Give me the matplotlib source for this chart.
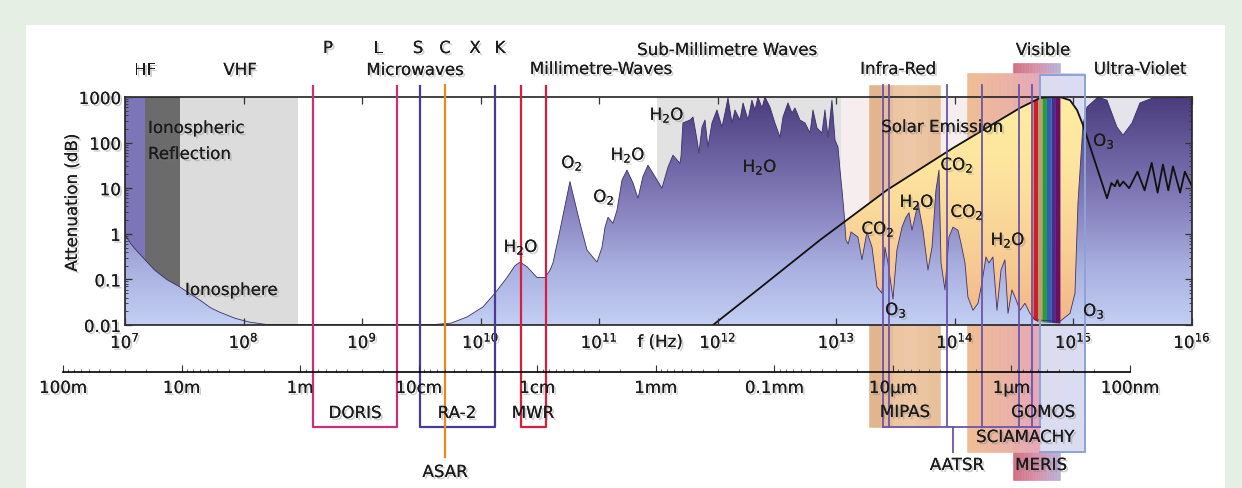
import numpy as np
import matplotlib.pyplot as plt
import matplotlib.transforms as mtransforms
import matplotlib.patheffects as pe
from matplotlib.colors import LinearSegmentedColormap
from matplotlib.path import Path
from matplotlib.patches import Rectangle
from matplotlib.ticker import NullFormatter

plt.rcParams['font.family'] = ['DejaVu Sans']
plt.rcParams['mathtext.default'] = 'regular'

W, H = 1242, 488

# --- atmospheric attenuation, log10(f / Hz) and dB ---
iono_logf = [7.000, 7.05, 7.10, 7.169, 7.25, 7.35, 7.464, 7.55, 7.633, 7.72, 7.801, 7.93, 8.054, 8.2]
iono_db = [0.95, 0.6, 0.42, 0.27, 0.16, 0.1, 0.068, 0.048, 0.035, 0.024, 0.019, 0.014, 0.0115, 0.0102]

mw_logf = [9.6, 9.75, 9.885, 10.02, 10.121, 10.222, 10.289, 10.332, 10.391, 10.475, 10.543,
           10.585, 10.61, 10.669, 10.753, 10.838, 10.897, 10.981, 11.023, 11.049, 11.074,
           11.116, 11.15, 11.192, 11.234, 11.285, 11.327, 11.369, 11.411, 11.470, 11.529,
           11.580, 11.622, 11.681, 11.69]
mw_db = [0.0102, 0.011, 0.015, 0.025, 0.05, 0.11, 0.2, 0.24, 0.19, 0.11, 0.11,
         0.16, 0.23, 1.2, 14, 1.7, 0.44, 0.24, 0.5, 1.4, 2.3,
         1.7, 3.3, 15, 25, 13, 6, 18, 32, 18, 10,
         29, 53, 35, 50]

submm_logf = [11.706, 11.766, 11.791, 11.825, 11.841, 11.867, 11.892, 11.917, 11.951, 11.993,
              12.035, 12.061, 12.086, 12.120, 12.145, 12.187, 12.213, 12.255, 12.288, 12.314,
              12.339, 12.373, 12.398, 12.440, 12.482, 12.525, 12.550, 12.592, 12.626, 12.651,
              12.693, 12.736, 12.778, 12.803, 12.837, 12.879, 12.904, 12.930, 12.963, 12.989,
              13.014, 13.031, 13.048, 13.065]
submm_db = [270, 313, 364, 114, 59, 219, 313, 80, 269, 519,
            219, 446, 955, 269, 519, 313, 741, 313, 851, 519,
            1000, 575, 1000, 603, 269, 132, 364, 741, 446, 575,
            313, 269, 163, 519, 209, 163, 519, 132, 851, 114,
            80, 25, 9, 2.9]

ir_logf = [13.081, 13.10, 13.124, 13.182, 13.216, 13.258, 13.301, 13.343, 13.385, 13.410,
           13.436, 13.478, 13.511, 13.554, 13.587, 13.613, 13.638, 13.663, 13.689, 13.731,
           13.773, 13.807, 13.840, 13.866, 13.883, 13.916, 13.950, 13.984, 14.026, 14.051,
           14.085, 14.110, 14.153, 14.195, 14.228, 14.262, 14.287, 14.321, 14.355, 14.389,
           14.422, 14.448, 14.481, 14.507, 14.549, 14.591, 14.633, 14.675, 14.886, 14.971,
           15.013, 15.038]
ir_db = [0.73, 0.6, 1.1, 0.85, 0.27, 1.1, 0.51, 0.068, 0.05, 0.51,
         0.23, 0.037, 0.44, 1.4, 2.3, 2.9, 1.2, 2.3, 4.7, 1.2,
         0.16, 0.51, 9, 25, 0.23, 0.059, 0.85, 1.4, 1.2, 0.63,
         0.23, 0.041, 0.021, 0.030, 0.083, 0.31, 0.23, 0.31, 0.021, 0.16,
         0.27, 0.018, 0.059, 0.041, 0.021, 0.030, 0.018, 0.013, 0.012, 0.018,
         0.050, 4.7]

uv_logf = [15.080, 15.114, 15.207, 15.283, 15.367, 15.418, 15.494, 15.561, 15.671, 15.840, 16.0]
uv_db = [245, 600, 1000, 851, 219, 146, 269, 741, 955, 955, 1000]

# solar emission line
solar_logf = [11.960, 12.356, 12.862, 13.427, 13.984, 14.549, 14.718, 14.80, 14.886, 14.971,
              15.03, 15.08, 15.283, 15.32, 15.35, 15.37, 15.39, 15.42, 15.47, 15.54,
              15.60, 15.66, 15.71, 15.755, 15.80, 15.84, 15.90, 15.94, 16.0]
solar_db = [0.01, 0.065, 0.73, 9.1, 76, 575, 950, 1000, 1000, 850,
            520, 245, 6, 13, 11, 15, 11, 14, 10, 23,
            9, 36, 8, 33, 9, 30, 8, 23, 11]

# spectral bands (Hz)
hf_band = [1.0e7, 1.47e7]
iono_dark = [1.47e7, 2.9e7]
iono_light = [2.9e7, 2.88e8]
submm_grey = [3.1e11, 1.1e13]
uv_grey = [1.2e15, 1.0e16]
pale_band = [1.0e13, 5.2e14]
visible_band = [4.56e14, 7.69e14]
rainbow = ['#c8202c', '#e89a1c', '#2a9a3a', '#2a62b8', '#4a2a8c', '#6a1060']

# instruments (Hz)
doris = [3.86e8, 1.97e9]
ra2 = [3.08e9, 1.32e10]
asar = 5.0e9
mwr = [2.19e10, 3.56e10]
mipas = [1.88e13, 7.48e13]
aatsr = [2.47e13, 2.78e13, 8.57e13, 1.69e14, 3.47e14, 4.47e14]
aatsr_stem = 9.64e13
sciamachy = [1.26e14, 1.25e15]
gomos = [5.22e14, 1.25e15]
meris = [3.09e14, 7.69e14]

# wavelength scale
wl_labels = ['100m', '10m', '1m', '10cm', '1cm', '1mm', '0.1mm', '10\u00b5m', '1\u00b5m', '100nm']
wl_metres = [100, 10, 1, 0.1, 0.01, 1e-3, 1e-4, 1e-5, 1e-6, 1e-7]

att_f = 10 ** np.array(iono_logf + mw_logf + submm_logf + ir_logf + uv_logf)
att_db = np.array(iono_db + mw_db + submm_db + ir_db + uv_db)
sol_f = 10 ** np.array(solar_logf)
sol_db = np.array(solar_db)

TXT = '#1a1a1a'
shadow = [pe.withSimplePatchShadow(offset=(1.5, -1.5), shadow_rgbFace='#777777', alpha=0.35), pe.Normal()]


def fy(p):
    return 1 - p / H


def label(x, y, s, ha='center', size=12, **kw):
    fig.text(x / W, fy(y), s, ha=ha, va='center', fontsize=size, color=TXT,
             path_effects=shadow, **kw)


def logval(lf, xs, ys):
    return 10 ** np.interp(lf, np.log10(xs), np.log10(ys))


fig = plt.figure(figsize=(W / 100, H / 100), dpi=100)
fig.patch.set_facecolor('#e6efe3')
fig.patches.append(Rectangle((26 / W, 0), (1225 - 26) / W, fy(25), transform=fig.transFigure,
                             facecolor='white', edgecolor='none', zorder=-10))

ax = fig.add_axes([125 / W, fy(325), (1192 - 125) / W, (325 - 97) / H])
ax.set_xscale('log')
ax.set_yscale('log')
ax.set_xlim(1e7, 1e16)
ax.set_ylim(0.01, 1000)
ax.set_autoscale_on(False)
ax.patch.set_visible(False)
bt = mtransforms.blended_transform_factory(ax.transData, fig.transFigure)

# background bands
ax.fill_between(pale_band, 0.01, 1000, color='#f6eeee', lw=0, zorder=0.2)
ax.fill_between(hf_band, 0.01, 1000, color='#7c76b8', lw=0, zorder=1)
ax.fill_between(iono_dark, 0.01, 1000, color='#6b6b6b', lw=0, zorder=1)
ax.fill_between(iono_light, 0.01, 1000, color='#dcdcdc', lw=0, zorder=1)
ax.fill_between(submm_grey, 0.01, 1000, color='#e2e2e2', lw=0, zorder=1)
ax.fill_between(uv_grey, 0.01, 1000, color='#e4e4ea', lw=0, zorder=1)


def box_fill(fr, y0, y1, colors, z, n=30):
    edges = np.logspace(np.log10(fr[0]), np.log10(fr[1]), n + 1)
    cm = LinearSegmentedColormap.from_list('b', colors)
    for i in range(n):
        c = cm(i / (n - 1))
        ax.fill([edges[i], edges[i + 1], edges[i + 1], edges[i]], [fy(y1), fy(y1), fy(y0), fy(y0)],
                transform=bt, facecolor=c, edgecolor=c, lw=0.4, clip_on=False, zorder=z)


# instrument band fills (under the spectrum)
box_fill(mipas, 85, 427, ['#e2b58e', '#efcaa8', '#e8c09c'], 0.5, n=6)
box_fill(meris, 63, 480, ['#cf6f80', '#d890a8', '#b8b0d8'], 0.45)
box_fill(sciamachy, 73, 452, ['#efbd95', '#eab2a4', '#e4a8c0', '#d8d2ee'], 0.5)
box_fill(gomos, 75, 452, ['#dcdcf0', '#dadcf2'], 0.55, n=2)


def gradient(coll, colors, z):
    cm = LinearSegmentedColormap.from_list('g', colors)
    grad = np.linspace(0, 1, 256).reshape(-1, 1)
    im = ax.imshow(grad, cmap=cm, aspect='auto', extent=(0, 1, 0, 1), transform=ax.transAxes,
                   origin='lower', zorder=z, interpolation='bilinear')
    clip = Path.make_compound_path(*coll.get_paths())
    im.set_clip_path(clip, ax.transData)
    coll.set_visible(False)


# attenuation fill
att_poly = ax.fill_between(att_f, 0.01, att_db, facecolor='none', edgecolor='none')
gradient(att_poly, ['#c3cff3', '#a9b0e0', '#8983bf', '#6a5f9f', '#4a3c7c'], 2)

# solar emission fill (between attenuation and solar curve)
lf0, lf1 = 13.072, 15.08
s_lf = np.array(solar_logf)
a_lf = np.log10(att_f)
top_x = np.concatenate([[lf0], s_lf[(s_lf > lf0) & (s_lf < lf1)], [lf1]])
top_y = logval(top_x, sol_f, sol_db)
bot_x = a_lf[(a_lf > lf0) & (a_lf < lf1)]
bot_y = att_db[(a_lf > lf0) & (a_lf < lf1)]
poly_x = np.concatenate([top_x, bot_x[::-1]])
poly_y = np.concatenate([top_y, bot_y[::-1]])
sol_poly = ax.fill(10 ** poly_x, poly_y, facecolor='none', edgecolor='none')[0]
cm_y = LinearSegmentedColormap.from_list('y', ['#f2b68a', '#f8cf95', '#fde49e', '#ffeda2'])
im_y = ax.imshow(np.linspace(0, 1, 256).reshape(-1, 1), cmap=cm_y, aspect='auto', extent=(0, 1, 0, 1),
                 transform=ax.transAxes, origin='lower', zorder=2.1, interpolation='bilinear')
im_y.set_clip_path(sol_poly)
sol_poly.set_visible(False)
# keep the patch for clipping but make it non-drawing
sol_poly.set_alpha(0)
sol_poly.set_visible(True)

# rainbow of the visible band
edges = np.logspace(np.log10(visible_band[0]), np.log10(visible_band[1]), len(rainbow) + 1)
for i, c in enumerate(rainbow):
    xs = edges[i:i + 2]
    lo = logval(np.log10(xs), att_f, att_db)
    hi = logval(np.log10(xs), sol_f, sol_db)
    ax.fill_between(xs, lo * 0.92, hi, color=c, lw=0, zorder=2.3)

ax.plot(att_f, att_db, color='#3a2f66', lw=0.6, zorder=2.4)
ax.plot(sol_f, sol_db, color='#111111', lw=1.3, zorder=2.5)

# frame and ticks
for s in ax.spines.values():
    s.set_linewidth(1.2)
    s.set_color('#222222')
ax.set_axisbelow(False)
ax.set_yticks([0.01, 0.1, 1, 10, 100, 1000], labels=['0.01', '0.1', '1', '10', '100', '1000'])
ax.set_xticks([10.0 ** k for k in range(7, 17)], labels=[f'$10^{{{k}}}$' for k in range(7, 17)])
ax.xaxis.set_minor_formatter(NullFormatter())
ax.yaxis.set_minor_formatter(NullFormatter())
ax.tick_params(which='both', direction='in', top=True, right=True, color='#333333', labelsize=12,
               labelcolor=TXT)
ax.tick_params(which='major', length=5, width=0.9)
ax.tick_params(which='minor', length=2.5, width=0.6)
ax.tick_params(axis='x', pad=5)
ax.tick_params(axis='y', pad=3)
for t in ax.get_xticklabels() + ax.get_yticklabels():
    t.set_path_effects(shadow)

# wavelength scale
ax2 = fig.add_axes([50 / W, fy(372), (1192 - 50) / W, 0.0001])
ax2.set_xscale('log')
ax2.set_xlim(10 ** (7 - 75 / 118.56), 1e16)
ax2.patch.set_visible(False)
for s in ['left', 'right', 'top']:
    ax2.spines[s].set_visible(False)
wl_freq = [3e8 / m for m in wl_metres]
ax2.spines['bottom'].set_bounds(min(wl_freq), max(wl_freq))
ax2.spines['bottom'].set_linewidth(1.2)
ax2.set_yticks([])
ax2.set_xticks(wl_freq, labels=wl_labels)
minor = [3e8 / (k * m) for m in wl_metres[1:] for k in range(2, 10)]
ax2.set_xticks(minor, minor=True)
ax2.xaxis.set_minor_formatter(NullFormatter())
ax2.tick_params(axis='x', which='major', direction='in', length=5, pad=5, labelsize=12,
                labelcolor=TXT, color='#333333')
ax2.tick_params(axis='x', which='minor', direction='in', length=2.5, color='#555555')
for t in ax2.get_xticklabels():
    t.set_path_effects(shadow)

# instrument outlines
def ubox(fr, color, top=86, bottom=427, lw=1.6):
    ax.plot([fr[0], fr[0], fr[1], fr[1]], [fy(top), fy(bottom), fy(bottom), fy(top)],
            transform=bt, color=color, lw=lw, clip_on=False, zorder=5)


ubox(doris, '#c8307a')
ubox(ra2, '#4a3a96')
ubox(mwr, '#d81e3c')
ax.plot([asar, asar], [fy(85), fy(457)], transform=bt, color='#e88a20', lw=1.6, clip_on=False, zorder=5)
for f in aatsr:
    ax.plot([f, f], [fy(85), fy(427)], transform=bt, color='#6b55a8', lw=1.3, clip_on=False, zorder=5)
ax.plot([aatsr[0], gomos[0]], [fy(427), fy(427)], transform=bt, color='#6b55a8', lw=1.3,
        clip_on=False, zorder=5)
ax.plot([aatsr_stem, aatsr_stem], [fy(427), fy(452)], transform=bt, color='#6b55a8', lw=1.3,
        clip_on=False, zorder=5)
ax.plot([gomos[0], gomos[0], gomos[1], gomos[1], gomos[0]], [fy(427), fy(75), fy(75), fy(452), fy(452)],
        transform=bt, color='#8ca3d6', lw=1.4, clip_on=False, zorder=4.5)

# band names
for s, x, y in [('HF', 145, 70), ('VHF', 240, 70), ('P', 328, 48), ('L', 378, 48), ('S', 418, 48),
                ('C', 445, 48), ('X', 475, 48), ('K', 500, 48), ('Microwaves', 415, 70),
                ('Millimetre-Waves', 601, 69), ('Sub-Millimetre Waves', 727, 50),
                ('Infra-Red', 898, 69), ('Visible', 1043, 50), ('Ultra-Violet', 1140, 69)]:
    label(x, y, s)

# labels inside the plot
label(148, 128, 'Ionospheric', ha='left')
label(148, 154, 'Reflection', ha='left')
label(185, 290, 'Ionosphere', ha='left')
label(942, 127, 'Solar Emission')
for s, x, y in [('H$_2$O', 521, 247), ('O$_2$', 572, 163), ('O$_2$', 604, 197), ('H$_2$O', 628, 155),
                ('H$_2$O', 667, 115), ('H$_2$O', 760, 167), ('CO$_2$', 878, 229), ('H$_2$O', 917, 202),
                ('CO$_2$', 957, 165), ('CO$_2$', 967, 212), ('H$_2$O', 1008, 240), ('O$_3$', 896, 310),
                ('O$_3$', 1094, 311), ('O$_3$', 1104, 141)]:
    label(x, y, s)

# instrument names
for s, x, y in [('DORIS', 355, 413), ('RA-2', 457, 413), ('MWR', 533, 413), ('ASAR', 445, 472),
                ('MIPAS', 905, 412), ('GOMOS', 1043, 412), ('SCIAMACHY', 1025, 437),
                ('AATSR', 957, 465), ('MERIS', 1041, 465)]:
    label(x, y, s)

label(72, 203, 'Attenuation (dB)', rotation=90)
label(660, 342, 'f (Hz)')

fig.savefig('out.png', dpi=100)
